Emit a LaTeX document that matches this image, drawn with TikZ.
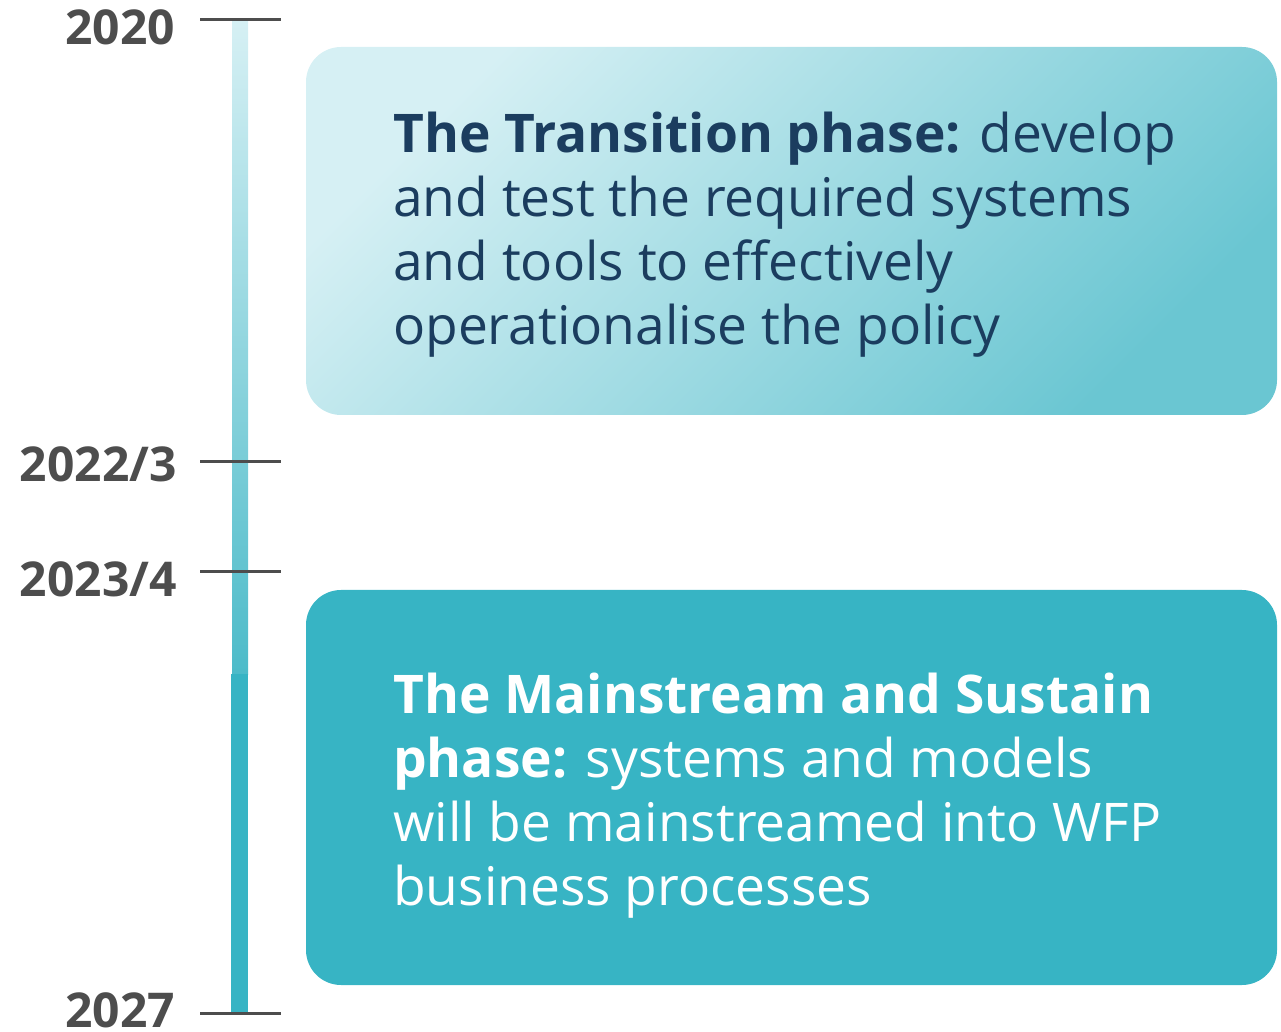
\documentclass[tikz,border=0pt]{standalone}
\usepackage{fontspec}
\setmainfont{Open Sans}
\definecolor{tickgray}{HTML}{4D4D4D}
\definecolor{navy}{HTML}{1B3D5F}
\definecolor{teal}{HTML}{37B4C4}
\definecolor{lighttop}{HTML}{D6F0F4}
\definecolor{barmid}{HTML}{4CBBC9}
\definecolor{boxdark}{HTML}{6AC6D2}
\begin{document}
\begin{tikzpicture}[x=1pt,y=1pt,
  year/.style={anchor=base east,inner sep=0pt,text=tickgray,font=\fontsize{48}{56}\selectfont\bfseries},
  tickline/.style={draw=tickgray,line width=3pt},
  phasetext/.style={anchor=base west,inner sep=0pt,align=left,font=\fontsize{53.3}{64}\selectfont}]
\useasboundingbox (0,0) rectangle (1281,1031);
% timeline bar
\shade[top color=lighttop,bottom color=barmid] (232,356) rectangle (248,1011);
\fill[teal] (231,18) rectangle (248,357);
% ticks
\coordinate (t1a) at (200,1011); \coordinate (t1b) at (281,1011);
\coordinate (t2a) at (200,569);  \coordinate (t2b) at (281,569);
\coordinate (t3a) at (200,459);  \coordinate (t3b) at (281,459);
\coordinate (t4a) at (200,18);   \coordinate (t4b) at (281,18);
\draw[tickline] (t1a) -- (t1b);
\draw[tickline] (t2a) -- (t2b);
\draw[tickline] (t3a) -- (t3b);
\draw[tickline] (t4a) -- (t4b);
% years
\node[year] (y2020) at (175,986) {2020};
\node[year] (y2022) at (177,549) {2022/3};
\node[year] (y2023) at (177,434) {2023/4};
\node[year] (y2027) at (175,4) {2027};
% boxes
\shade[rounded corners=35pt,top color=lighttop,bottom color=boxdark,shading angle=45] (306,616) rectangle (1277,984);
\fill[teal,rounded corners=35pt] (306,46) rectangle (1277,441);
\node[phasetext,text=navy] (p1) at (393,686) {\textbf{The Transition phase:} develop\\and test the required systems\\and tools to effectively\\operationalise the policy};
\node[phasetext,text=white] (p2) at (393,126) {\textbf{The Mainstream and Sustain}\\\textbf{phase:} systems and models\\will be mainstreamed into WFP\\business processes};
\end{tikzpicture}
\end{document}
